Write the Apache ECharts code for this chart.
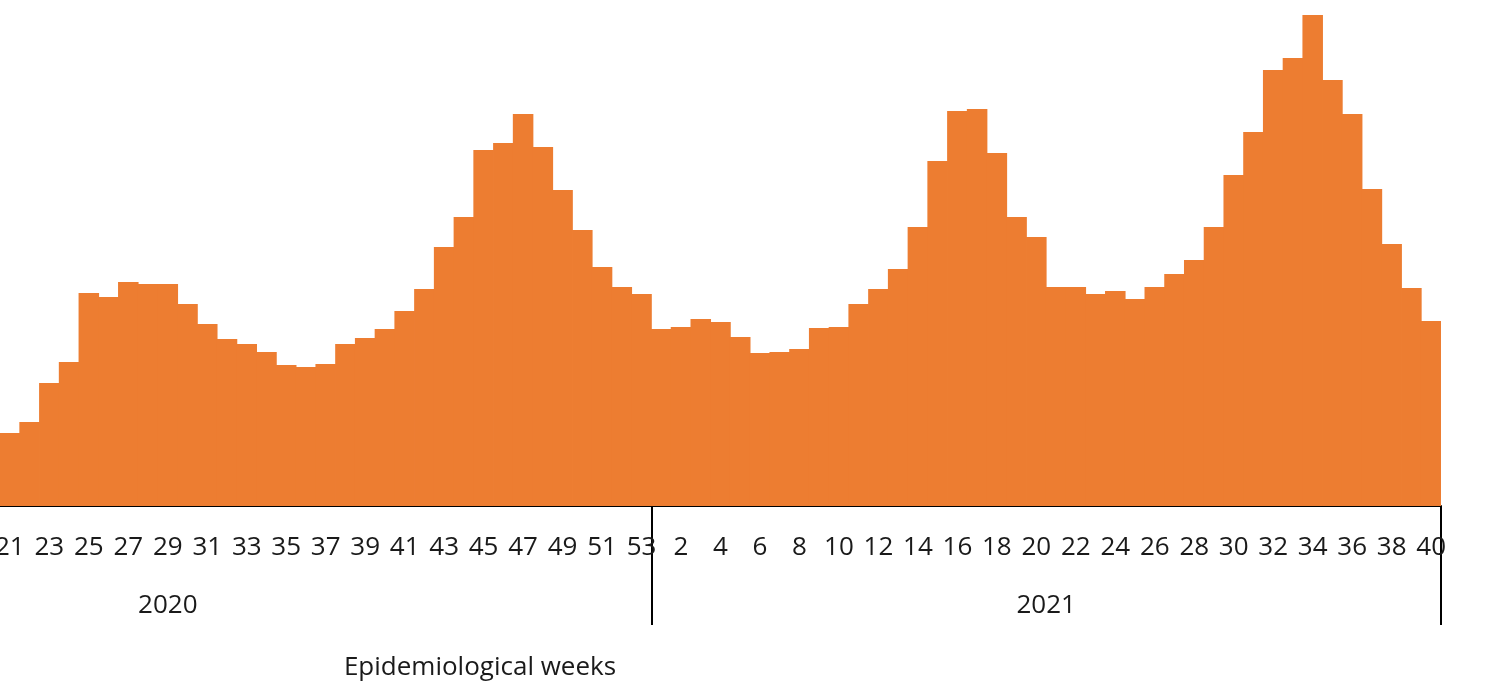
<!DOCTYPE html>
<html>
<head>
<meta charset="utf-8">
<script src="https://cdn.jsdelivr.net/npm/echarts@6/dist/echarts.min.js"></script>
<style>
html,body{margin:0;padding:0;background:#fff;}
#chart{width:1488px;height:684px;}
</style>
</head>
<body>
<div id="chart"></div>
<script>
// Epidemiological weeks: 2020 weeks 21..53, 2021 weeks 1..40
const weeks2020 = [21,22,23,24,25,26,27,28,29,30,31,32,33,34,35,36,37,38,39,40,41,42,43,44,45,46,47,48,49,50,51,52,53];
const weeks2021 = [1,2,3,4,5,6,7,8,9,10,11,12,13,14,15,16,17,18,19,20,21,22,23,24,25,26,27,28,29,30,31,32,33,34,35,36,37,38,39,40];
// Values (arbitrary units)
const values2020 = [73,84,123,144,213,209,224,222,222,202,182,167,162,154,141,139,142,162,168,177,195,217,259,289,356,363,392,359,316,276,239,219,212];
const values2021 = [177,179,187,184,169,153,154,157,178,179,202,217,237,279,345,395,397,353,289,269,219,219,212,215,207,219,232,246,279,331,374,436,448,491,426,392,317,262,218,185];
const yearLabels = ['2020','2021'];
const axisTitle = 'Epidemiological weeks';

const categories = weeks2020.map(w => String(w)).concat(weeks2021.map(w => String(w)));
const values = values2020.concat(values2021);
const n = categories.length;
const split = weeks2020.length;

const FONT = "'Open Sans', 'Noto Sans', sans-serif";
const TEXT = '#1a1a1a';
const chart = echarts.init(document.getElementById('chart'), null, {renderer:'canvas'});
chart.setOption({
  animation: false,
  backgroundColor: '#ffffff',
  grid: {left: 0, right: 47, top: 0, bottom: 178, containLabel: false, outerBoundsMode: 'none'},
  xAxis: [
    {
      type: 'category',
      data: categories,
      boundaryGap: true,
      axisLine: {show: true, lineStyle: {color: '#000', width: 2}},
      axisTick: {show: false},
      axisLabel: {interval: 1, color: TEXT, fontFamily: FONT, fontSize: 26, margin: 29}
    },
    {
      type: 'value',
      min: 0,
      max: n,
      position: 'bottom',
      axisLine: {show: false},
      splitLine: {show: false},
      axisTick: {show: true, customValues: [split, n], length: 119, lineStyle: {color: '#000', width: 2}},
      axisLabel: {
        customValues: [8.5, (split + n) / 2],
        formatter: v => (v < split ? yearLabels[0] : yearLabels[1]),
        color: TEXT, fontFamily: FONT, fontSize: 26, margin: 87
      }
    }
  ],
  yAxis: {type: 'value', min: 0, max: 506, show: false},
  series: [{
    type: 'bar',
    xAxisIndex: 0,
    data: values,
    barWidth: '104%',
    itemStyle: {color: '#ED7D31'}
  }],
  graphic: [{
    type: 'text',
    x: 480, y: 668,
    style: {text: axisTitle, fill: TEXT, font: "26px 'Open Sans', 'Noto Sans', sans-serif", textAlign: 'center', textVerticalAlign: 'middle'}
  }]
});
</script>
</body>
</html>
